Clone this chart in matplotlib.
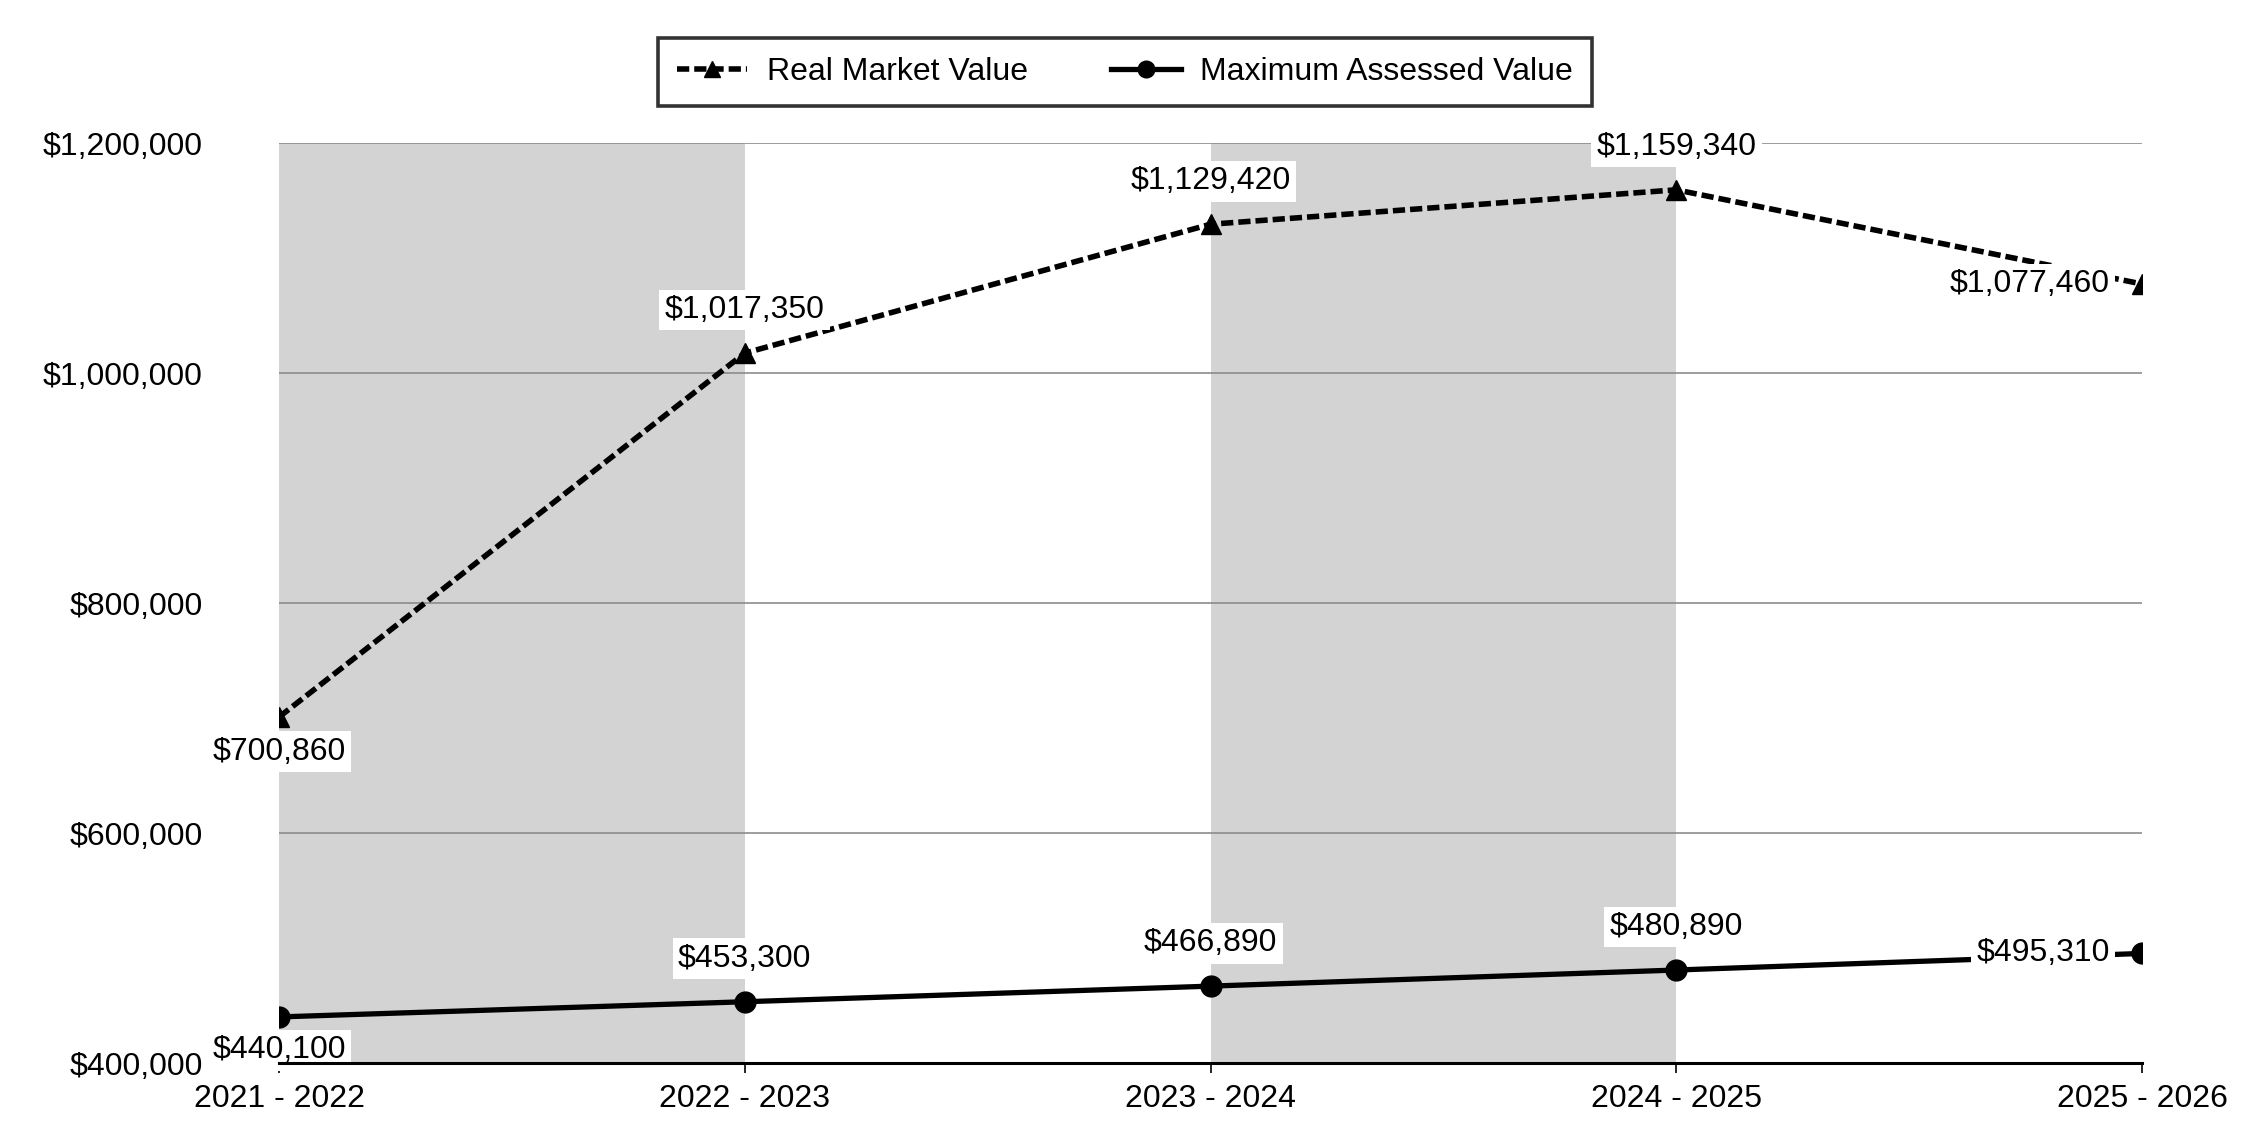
import matplotlib
matplotlib.use("Agg")
import matplotlib.pyplot as plt
from matplotlib.ticker import FuncFormatter

plt.rcParams["font.family"] = ["Liberation Sans", "DejaVu Sans"]

# ---- data ----
years = ["2021 - 2022", "2022 - 2023", "2023 - 2024", "2024 - 2025", "2025 - 2026"]
real_market = [700860, 1017350, 1129420, 1159340, 1077460]
max_assessed = [440100, 453300, 466890, 480890, 495310]
y_ticks = [400000, 600000, 800000, 1000000, 1200000]

FS = 23
x = list(range(len(years)))

fig = plt.figure(figsize=(22.5, 11.4), dpi=100)
ax = fig.add_axes([0.124, 0.0675, 0.828, 0.807])

# alternating shaded columns
for i in range(0, len(years) - 1, 2):
    ax.axvspan(x[i], x[i + 1], color="#d3d3d3", lw=0, zorder=0)

ax.plot(x, real_market, color="black", lw=4.0, ls=(0, (2.2, 0.9)),
        marker="^", ms=15, label="Real Market Value", zorder=3)
ax.plot(x, max_assessed, color="black", lw=3.8, ls="-",
        marker="o", ms=15, label="Maximum Assessed Value", zorder=3)

box = dict(facecolor="white", edgecolor="none", pad=4)


def label(xi, yi, dx, dy, ha="center"):
    ax.annotate(f"${yi:,.0f}", (xi, yi), xytext=(dx, dy), textcoords="offset points",
                ha=ha, va="center", fontsize=FS, bbox=box, zorder=4)


# value labels (first point below, last point to the left, others above)
for i, (rv, mv) in enumerate(zip(real_market, max_assessed)):
    if i == 0:
        label(x[i], rv, 0, -25)
        label(x[i], mv, 0, -24)
    elif i == len(x) - 1:
        label(x[i], rv, -23, 0, ha="right")
        label(x[i], mv, -23, 0, ha="right")
    else:
        label(x[i], rv, 0, 31)
        label(x[i], mv, 0, 31)

ax.set_xlim(x[0], x[-1])
ax.set_ylim(y_ticks[0], y_ticks[-1])
ax.set_xticks(x)
ax.set_xticklabels(years, fontsize=FS)
ax.set_yticks(y_ticks)
ax.yaxis.set_major_formatter(FuncFormatter(lambda v, p: f"${v:,.0f}"))
ax.tick_params(axis="y", length=0, pad=55, labelsize=FS)
ax.tick_params(axis="x", length=7, width=1.2, pad=8, direction="out")
ax.grid(axis="y", color="#8c8c8c", lw=1.2, zorder=1)
ax.set_axisbelow(False)
for s in ["top", "right", "left"]:
    ax.spines[s].set_visible(False)
ax.spines["bottom"].set_linewidth(2.2)
ax.spines["bottom"].set_zorder(5)

leg = fig.legend(loc="center", bbox_to_anchor=(0.5, 0.937), ncol=2, fontsize=FS,
                 frameon=True, fancybox=False, edgecolor="black", handlelength=2.2,
                 columnspacing=2.6, handletextpad=0.6, borderpad=0.6, markerscale=0.8,
                 borderaxespad=0)
leg.get_frame().set_linewidth(2.6)

fig.savefig("out.png", dpi=100)
